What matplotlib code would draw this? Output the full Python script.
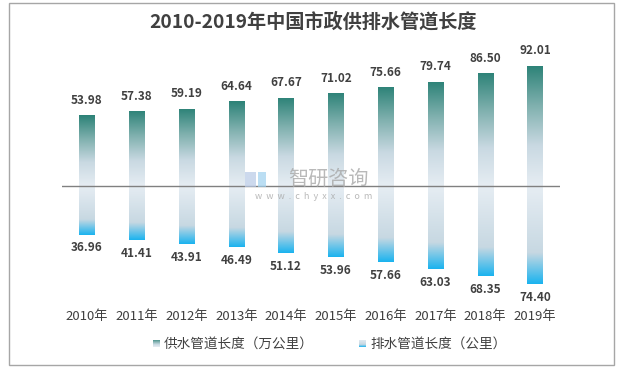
import matplotlib
matplotlib.use('Agg')
import matplotlib.pyplot as plt
import matplotlib.transforms as mtransforms
import numpy as np
from matplotlib.colors import LinearSegmentedColormap
from matplotlib.patches import Rectangle

plt.rcParams['font.family'] = ['Noto Sans CJK SC', 'DejaVu Sans']

years = ['2010年', '2011年', '2012年', '2013年', '2014年',
         '2015年', '2016年', '2017年', '2018年', '2019年']
supply = [53.98, 57.38, 59.19, 64.64, 67.67, 71.02, 75.66, 79.74, 86.50, 92.01]
drain = [36.96, 41.41, 43.91, 46.49, 51.12, 53.96, 57.66, 63.03, 68.35, 74.40]
labels = ['供水管道长度（万公里）', '排水管道长度（公里）']

txt = '#404040'
# gradients, first colour at the zero line
cm_up = LinearSegmentedColormap.from_list('up', ['#e6edf3', '#c9d9e2', '#7fb0ae', '#2c8277'])
cm_dn = LinearSegmentedColormap.from_list('dn', [(0, '#e6edf3'), (0.68, '#c7d8e2'), (1, '#1ab3ef')])

fig = plt.figure(figsize=(6.27, 3.70), dpi=100)
ax = fig.add_axes([0.099, 0.189, 0.794, 0.676])

x = np.arange(len(years))
w = 0.31
b1 = ax.bar(x, supply, width=w, color='none', label=labels[0])
b2 = ax.bar(x, [-v for v in drain], width=w, color='none', label=labels[1])

grad = np.linspace(0, 1, 256).reshape(-1, 1)
for bars, cm in ((b1, cm_up), (b2, cm_dn)):
    for r in bars:
        x0, y0 = r.get_x(), r.get_y()
        h = r.get_height()
        im = ax.imshow(grad, cmap=cm, aspect='auto', origin='lower',
                       extent=(x0, x0 + r.get_width(), y0, y0 + h), zorder=2)
        im.set_clip_path(r)

for i, v in enumerate(supply):
    ax.annotate(f'{v:.2f}', (x[i], v), xytext=(0, 6), textcoords='offset points',
                ha='center', va='bottom', fontsize=8.5, fontweight='bold', color=txt)
for i, v in enumerate(drain):
    ax.annotate(f'{v:.2f}', (x[i], -v), xytext=(0, -5), textcoords='offset points',
                ha='center', va='top', fontsize=8.5, fontweight='bold', color=txt)

ax.axhline(0, color='#808080', lw=1, zorder=3)
ax.set_xlim(-0.5, len(years) - 0.5)
ax.set_ylim(-87, 104)
ax.set_yticks([])
ax.set_xticks(x)
ax.set_xticklabels(years, fontsize=9.5, color=txt)
ax.tick_params(axis='x', length=0, pad=-2)
for s in ax.spines.values():
    s.set_visible(False)
off = mtransforms.ScaledTranslation(0, -9 / 72, fig.dpi_scale_trans)
for t in ax.get_xticklabels():
    t.set_transform(t.get_transform() + off)

fig.text(0.5, 0.94, '2010-2019年中国市政供排水管道长度', ha='center', va='center',
         fontsize=13.8, fontweight='bold', color=txt)

# legend
lx = [0.244, 0.573]
for k in range(2):
    cm = cm_up if k == 0 else cm_dn
    sq = fig.add_axes([lx[k], 0.062, 0.011, 0.019])
    sq.imshow(grad if k == 0 else grad[::-1], cmap=cm, aspect='auto', origin='lower')
    sq.axis('off')
    fig.text(lx[k] + 0.017, 0.071, labels[k], ha='left', va='center',
             fontsize=9.8, color=txt)

# watermark
fig.text(0.524, 0.514, '智研咨询', ha='center', va='center', fontsize=14.5,
         color='#a8a8a8', alpha=0.8, zorder=5)
fig.text(0.5, 0.468, 'w  w  w  .  c  h  y  x  x  .  c  o  m', ha='center', va='center',
         fontsize=6.5, color='#a8a8a8', alpha=0.8, zorder=5)
fig.patches.append(Rectangle((0.391, 0.495), 0.018, 0.04, transform=fig.transFigure,
                             facecolor='#b7c9e6', alpha=0.7, edgecolor='none', zorder=5))
fig.patches.append(Rectangle((0.412, 0.495), 0.013, 0.04, transform=fig.transFigure,
                             facecolor='#9fd0ee', alpha=0.7, edgecolor='none', zorder=5))

# outer border
fig.patches.append(Rectangle((0.014, 0.013), 0.965, 0.98, transform=fig.transFigure,
                             fill=False, edgecolor='#a6a6a6', lw=1))

fig.savefig('out.png', dpi=100)
